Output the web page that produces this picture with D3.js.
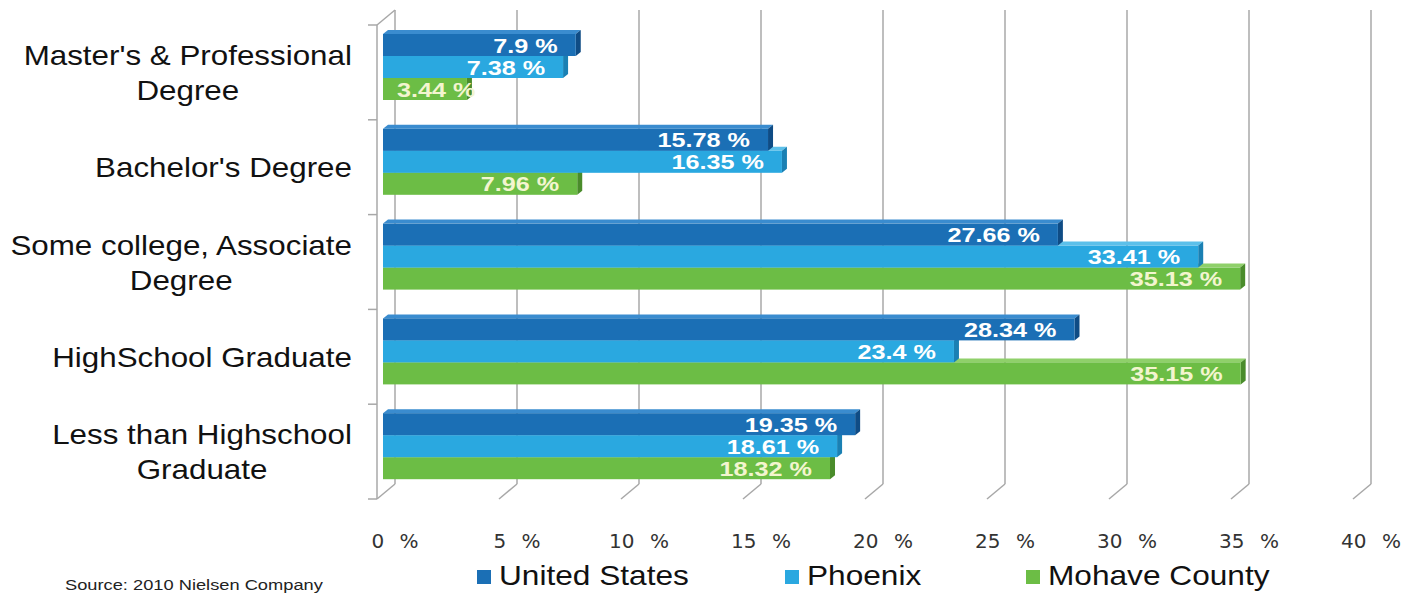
<!DOCTYPE html>
<html>
<head>
<meta charset="utf-8">
<title>Educational Attainment</title>
<style>
  body { margin: 0; background: #fff; font-family: "Liberation Sans", Arial, sans-serif; }
  svg { display: block; }
</style>
</head>
<body>
<div id="chart"></div>
<script src="https://d3js.org/d3.v7.min.js"></script>
<script>

// data
const categories = ["Master's & Professional Degree", "Bachelor's Degree",
  "Some college, Associate Degree", "HighSchool Graduate", "Less than Highschool Graduate"];
const categoryLines = [["Master's & Professional", "Degree"], ["Bachelor's Degree"],
  ["Some college, Associate", "Degree"], ["HighSchool Graduate"], ["Less than Highschool", "Graduate"]];
const seriesNames = ["United States", "Phoenix", "Mohave County"];
const unitedStates = [7.9, 15.78, 27.66, 28.34, 19.35];
const phoenix = [7.38, 16.35, 33.41, 23.4, 18.61];
const mohave = [3.44, 7.96, 35.13, 35.15, 18.32];
const xTicks = [0, 5, 10, 15, 20, 25, 30, 35, 40];

const allSeries = [unitedStates, phoenix, mohave];
const colors = [
  {front: "#1b6fb5", top: "#3a8ccf", side: "#0f4c85", label: "#ffffff"},
  {front: "#2aa8e0", top: "#5cc0ea", side: "#1a80b3", label: "#ffffff"},
  {front: "#6cbd45", top: "#8fd06a", side: "#4a8c2b", label: "#f3f5cf"}
];

const W = 1419, H = 595;
const svg = d3.select("#chart").append("svg")
  .attr("width", W).attr("height", H);

// 3D box geometry: back wall vs front edge
const depth = {dx: -18, dy: 15};
const xBack = d3.scaleLinear().domain([0, 40]).range([395, 1371]);
const xFront = d3.scaleLinear().domain([0, 40]).range([383, 1359]); // bars sit a bit behind the front
const backTop = 10, backBottom = 484;
const frontTop = backTop + depth.dy, frontBottom = backBottom + depth.dy;

const yBand = d3.scaleBand().domain(categories).range([frontTop, frontBottom]);
const barH = 22, barPad = 9;

// gridlines on back wall + floor slants
const grid = svg.append("g").attr("stroke", "#a8a8a8").attr("stroke-width", 1.5).attr("fill", "none");
xTicks.forEach(t => {
  const x = xBack(t);
  grid.append("line").attr("x1", x).attr("x2", x).attr("y1", backTop).attr("y2", backBottom);
  grid.append("line").attr("x1", x).attr("x2", x + depth.dx).attr("y1", backBottom).attr("y2", frontBottom);
});

// left axis (front edge) with category ticks
const ax = xBack(0) + depth.dx;
grid.append("line").attr("x1", ax).attr("x2", xBack(0)).attr("y1", frontTop).attr("y2", backTop);
grid.append("line").attr("x1", ax).attr("x2", ax).attr("y1", frontTop).attr("y2", frontBottom);
const bounds = categories.map(c => yBand(c)).concat([frontBottom]);
bounds.forEach(y => {
  grid.append("line").attr("x1", ax - 9).attr("x2", ax).attr("y1", y).attr("y2", y);
});

// x tick labels
svg.append("g").selectAll("text").data(xTicks).join("text")
  .attr("x", d => xBack(d))
  .attr("y", 548)
  .attr("text-anchor", "middle")
  .style("font-family", "'DejaVu Sans', Verdana, sans-serif")
  .style("font-size", "20px")
  .style("word-spacing", "9px")
  .attr("fill", "#333")
  .text(d => d + " %");

// bars: draw bottom series first so upper ones cover their top faces
const bd = {dx: 5, dy: -4};
const bars = svg.append("g");
const labelLayer = svg.append("g");
categories.forEach((cat, ci) => {
  for (let si = allSeries.length - 1; si >= 0; si--) {
    const v = allSeries[si][ci];
    const x0 = xFront(0), x1 = xFront(v);
    const y0 = yBand(cat) + barPad + si * barH, y1 = y0 + barH;
    const c = colors[si];
    bars.append("path")
      .attr("d", `M${x0},${y0}L${x0 + bd.dx},${y0 + bd.dy}L${x1 + bd.dx},${y0 + bd.dy}L${x1},${y0}Z`)
      .attr("fill", c.top);
    bars.append("path")
      .attr("d", `M${x1},${y0}L${x1 + bd.dx},${y0 + bd.dy}L${x1 + bd.dx},${y1 + bd.dy}L${x1},${y1}Z`)
      .attr("fill", c.side);
    bars.append("rect")
      .attr("x", x0).attr("y", y0).attr("width", x1 - x0).attr("height", barH)
      .attr("fill", c.front);
  }
});

// value labels
const lsx = 1.2;
categories.forEach((cat, ci) => {
  allSeries.forEach((s, si) => {
    const v = s[ci];
    const y0 = yBand(cat) + barPad + si * barH;
    const t = labelLayer.append("text")
      .attr("text-anchor", "end")
      .style("font-size", "21px")
      .style("font-weight", "bold")
      .attr("fill", colors[si].label)
      .text(v + " %");
    const w = t.node().getComputedTextLength() * lsx;
    const xr = Math.max(xFront(v) - 18, xFront(0) + 14 + w);
    t.attr("transform", `translate(${xr},${y0 + barH / 2 + 7.5}) scale(${lsx},1)`);
  });
});

// category labels, centred block right-aligned to the axis
const csx = 1.12, catRight = 352, lineGap = 35;
categories.forEach((cat, ci) => {
  const lines = categoryLines[ci];
  const cy = yBand(cat) + yBand.bandwidth() / 2;
  const g = svg.append("g");
  const texts = lines.map(l => g.append("text")
    .attr("text-anchor", "middle")
    .style("font-size", "28px")
    .attr("fill", "#111")
    .text(l));
  const maxW = d3.max(texts, t => t.node().getComputedTextLength()) * csx;
  const cx = catRight - maxW / 2;
  texts.forEach((t, li) => {
    const y = cy + (li - (lines.length - 1) / 2) * lineGap + 10;
    t.attr("transform", `translate(${cx},${y}) scale(${csx},1)`);
  });
});

// legend
const legendX = [477, 785, 1026];
seriesNames.forEach((name, i) => {
  svg.append("rect")
    .attr("x", legendX[i]).attr("y", 570).attr("width", 14).attr("height", 14)
    .attr("fill", colors[i].front);
  svg.append("text")
    .attr("transform", `translate(${legendX[i] + 22},585) scale(1.13,1)`)
    .style("font-size", "28px")
    .attr("fill", "#111")
    .text(name);
});

// source note
svg.append("text")
  .attr("transform", "translate(65,590) scale(1.26,1)")
  .style("font-size", "14.5px")
  .attr("fill", "#222")
  .text("Source: 2010 Nielsen Company");

</script>
</body>
</html>
